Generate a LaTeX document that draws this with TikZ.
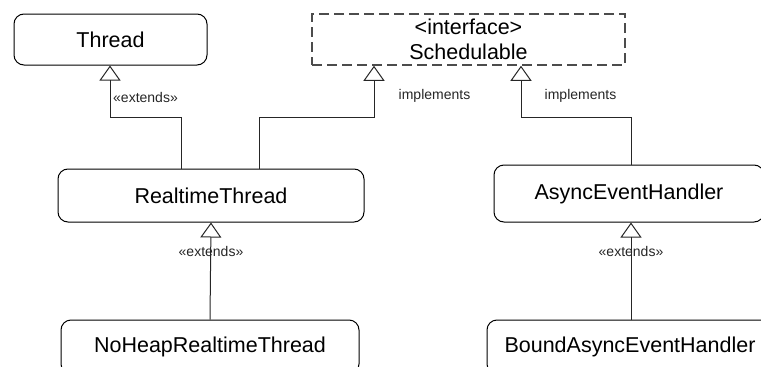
\documentclass[tikz,border=0pt]{standalone}
\usepackage{fontspec}
\setmainfont{Liberation Sans}
\usetikzlibrary{arrows.meta}
\begin{document}
\begin{tikzpicture}[x=1pt,y=-1pt,
  classbox/.style={draw=black, line width=1pt, rounded corners=10pt, inner sep=0pt,
    font=\fontsize{21.5}{25}\selectfont, align=center},
  ifacebox/.style={draw=black!70, line width=1.5pt, dash pattern=on 10pt off 5pt, inner sep=0pt,
    font=\fontsize{21.5}{25}\selectfont, align=center},
  inh/.style={draw=black!85, line width=1pt, -{Triangle[open, length=15pt, width=21pt, line width=1pt]}},
  lbl/.style={font=\fontsize{14}{16}\selectfont, text=black!85, inner sep=0pt}]
  \useasboundingbox (0,0) rectangle (761,367);
  \clip (0,0) rectangle (761,367);

  % classes and interface
  \node[classbox, minimum width=193pt, minimum height=51pt] (th) at (110.5,39.5) {Thread};
  \node[ifacebox, minimum width=313pt, minimum height=51pt] (sc) at (468.5,39.5) {<interface>\\Schedulable};
  \node[classbox, minimum width=306pt, minimum height=53pt] (rt) at (211,195.5) {RealtimeThread};
  \node[classbox, minimum width=270pt, minimum height=57pt] (ae) at (629,193.5) {AsyncEventHandler};
  \node[classbox, minimum width=298pt, minimum height=54pt] (nh) at (210,347) {NoHeapRealtimeThread};
  \node[classbox, minimum width=286pt, minimum height=54pt] (bh) at (630,347) {BoundAsyncEventHandler};

  % bend points of the routed connectors
  \coordinate (k1) at (181,117);
  \coordinate (k2) at (110,117);
  \coordinate (k3) at (259,117);
  \coordinate (k4) at (374,117);
  \coordinate (k5) at (631,117);
  \coordinate (k6) at (521,117);

  % generalisation / realisation connectors
  \draw[inh] (rt.north -| k1) -- (k1) -- (k2) -- (th.south -| k2);
  \draw[inh] (rt.north -| k3) -- (k3) -- (k4) -- (sc.south -| k4);
  \draw[inh] (ae.north -| k5) -- (k5) -- (k6) -- (sc.south -| k6);
  \draw[inh] (nh.north) -- (rt.south);
  \draw[inh] (bh.north -| k5) -- (ae.south -| k5);

  % connector labels
  \node[lbl, anchor=west] (l1) at (113,97) {«extends»};
  \node[lbl] (l2) at (434.5,96) {implements};
  \node[lbl] (l3) at (580.5,96) {implements};
  \node[lbl] (l4) at (211,251) {«extends»};
  \node[lbl] (l5) at (631,251) {«extends»};
\end{tikzpicture}
\end{document}
